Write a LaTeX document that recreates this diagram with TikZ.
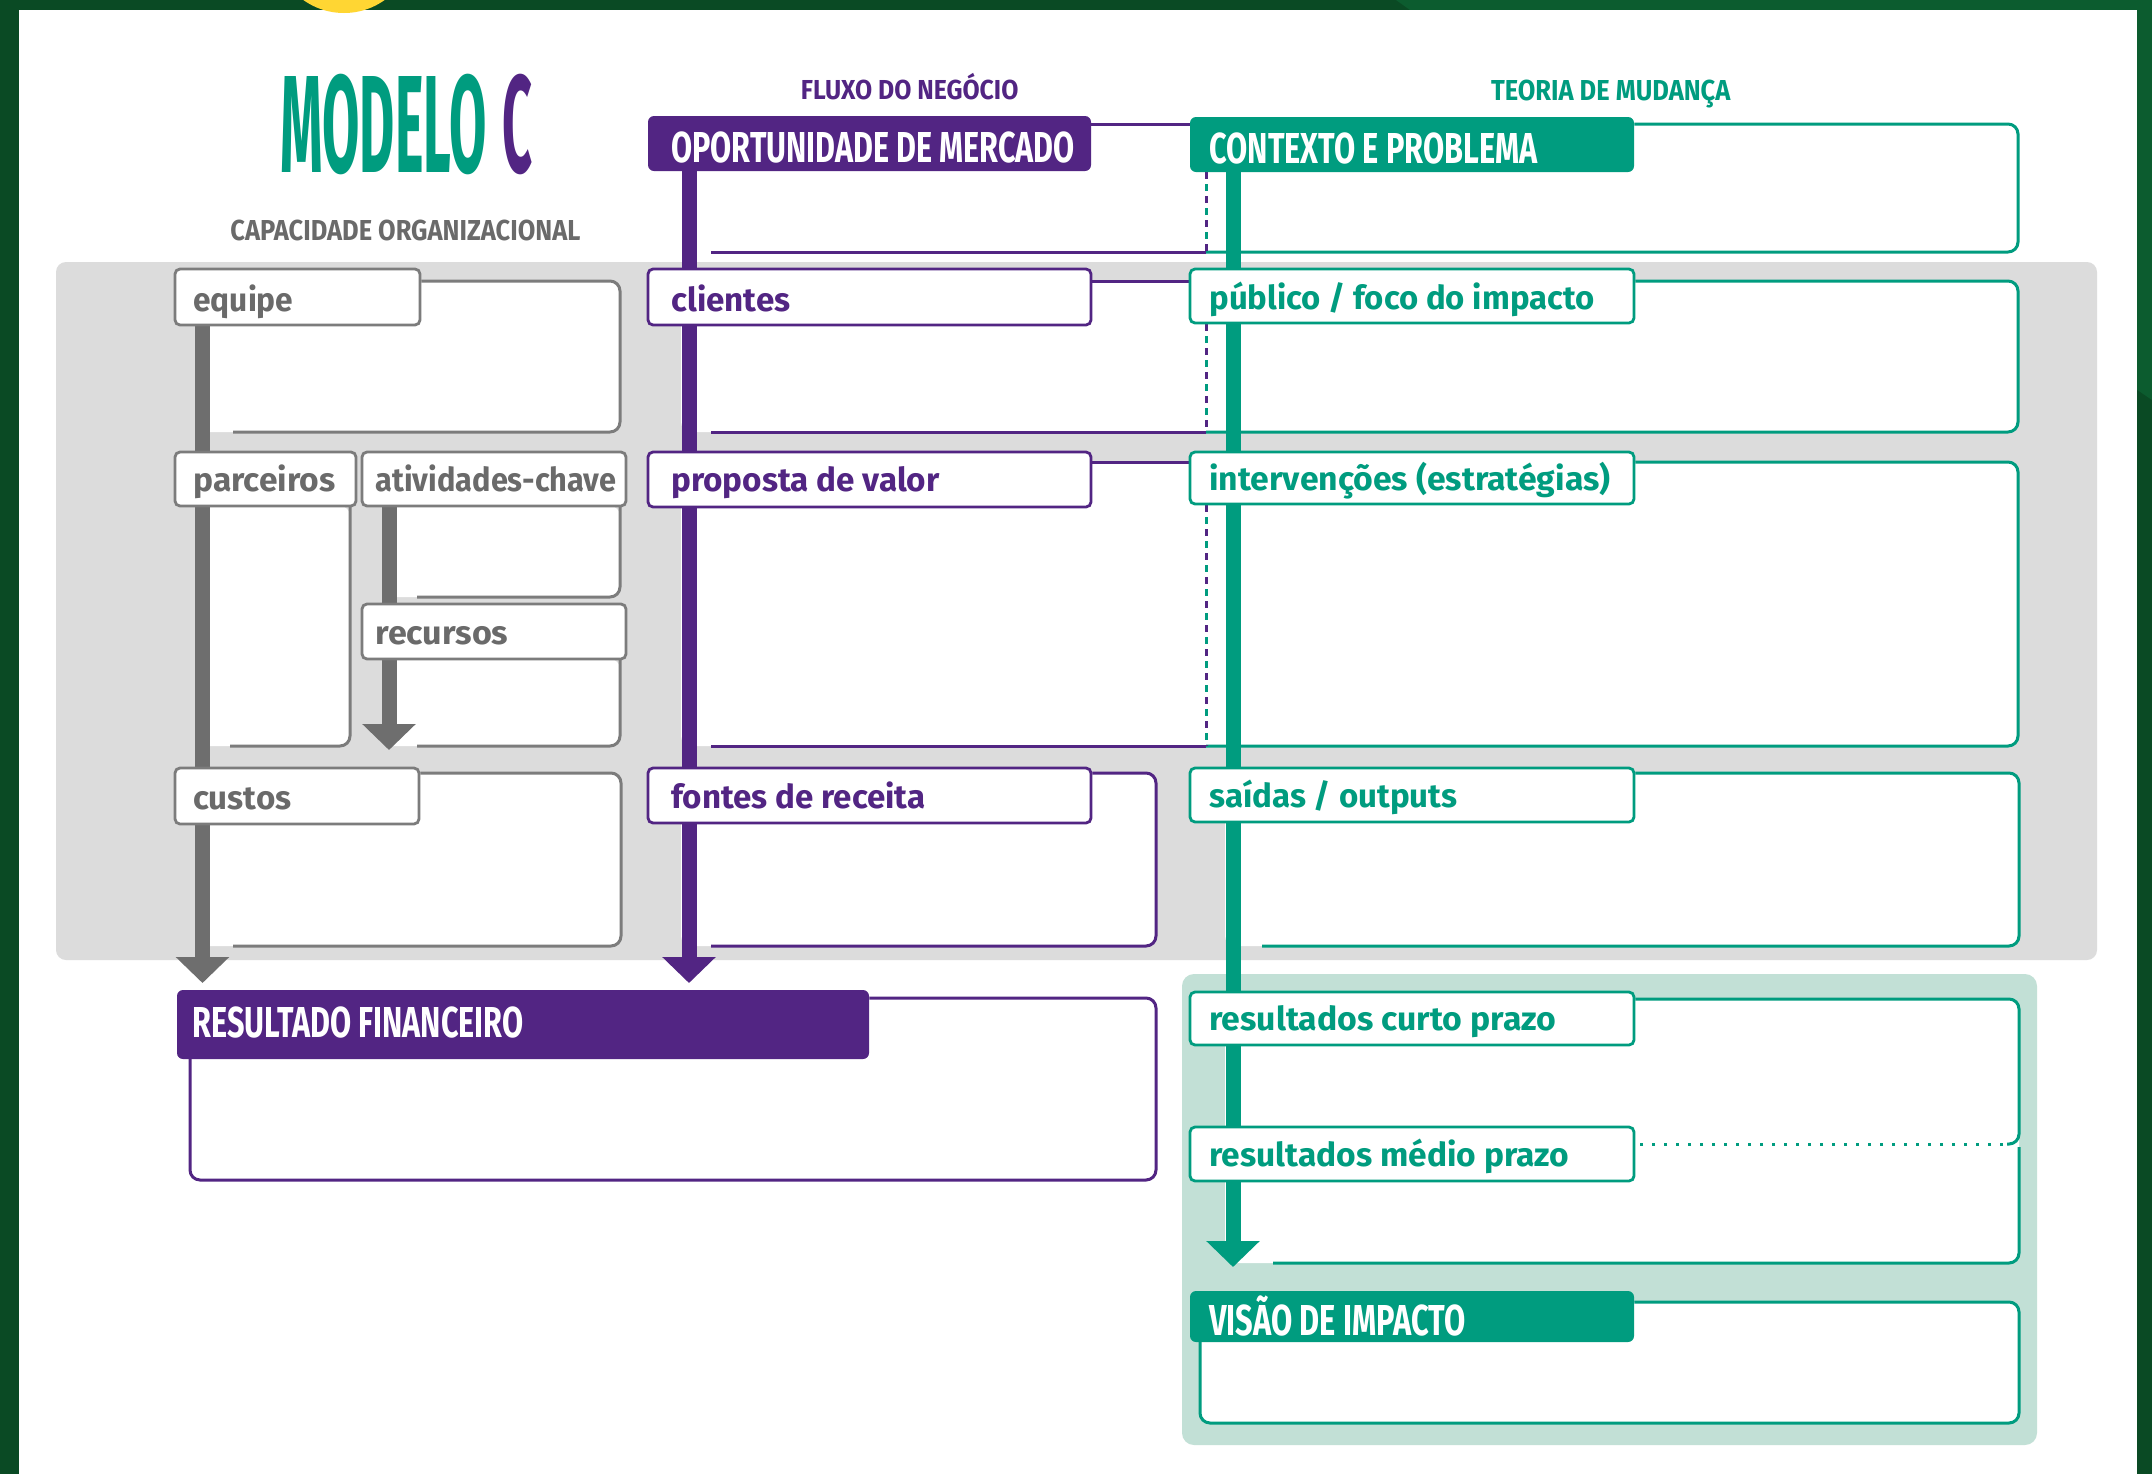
\documentclass[tikz,border=0pt]{standalone}
\usepackage{fontspec}
\usepackage{graphicx}
\setmainfont{Fira Sans}
\usetikzlibrary{arrows.meta,fit}
\definecolor{tpurple}{HTML}{522583}
\definecolor{tgreen}{HTML}{009C7F}
\definecolor{tgraybar}{HTML}{6E6E6E}
\definecolor{tgrayline}{HTML}{7C7C7C}
\definecolor{tgraytext}{HTML}{6A6A6A}
\definecolor{panelgray}{HTML}{DCDCDC}
\definecolor{panelgreen}{HTML}{C2E0D6}
\definecolor{framedark}{HTML}{0A4A24}
\definecolor{framelight}{HTML}{0C5C2F}
\definecolor{sun}{HTML}{FFD633}
\newcommand\fitl[3]{\resizebox{#1}{#2}{\smash{\bfseries #3}\vphantom{\bfseries l}}}
\newcommand\fitc[3]{\resizebox{#1}{#2}{\smash{\bfseries #3}\vphantom{\bfseries X}}}
\pgfdeclarelayer{bg}\pgfdeclarelayer{mid}\pgfsetlayers{bg,mid,main}
\begin{document}
\begin{tikzpicture}[x=0.5pt,y=-0.5pt,
 tab/.style={draw, fill=white, line width=1.4pt, rounded corners=2.5pt, inner sep=0pt},
 tabgray/.style={tab, draw=tgrayline},
 tabpurple/.style={tab, draw=tpurple},
 tabgreen/.style={tab, draw=tgreen},
 headpurple/.style={fill=tpurple, rounded corners=3pt, inner sep=0pt},
 headgreen/.style={fill=tgreen, rounded corners=3pt, inner sep=0pt},
 lbl/.style={anchor=base west, inner sep=0pt},
 bar/.style={line width=7.5pt, -{Triangle[width=26pt,length=13pt]}},
 cline/.style={line width=1.5pt, rounded corners=5pt},
 dotp/.style={line width=1.5pt, tpurple, dash pattern=on 3.5pt off 8.5pt},
 dotg/.style={line width=1.5pt, tgreen, dash pattern=on 3.5pt off 8.5pt, dash phase=6pt}]
\useasboundingbox (0,0) rectangle (2152,1474);
\begin{pgfonlayer}{bg}
\fill[framedark] (0,0) rectangle (2152,1474);
\fill[framelight] (1396,0) -- (2152,0) -- (2152,400) -- (2130,385) -- (1410,10) -- cycle;
\fill[white] (19,10) rectangle (2137,1474);
\fill[sun] (344,-57) circle (70);
\fill[panelgray, rounded corners=5pt] (56,262) rectangle (2097,960);
\fill[panelgreen, rounded corners=6pt] (1182,974) rectangle (2037,1445);
% white fills
\fill[white, rounded corners=5pt] (195,281) rectangle (620,432);
\fill[white, rounded corners=5pt] (195,506) rectangle (350,746);
\fill[white, rounded corners=5pt] (382,506) rectangle (620,597);
\fill[white, rounded corners=5pt] (382,659) rectangle (620,746);
\fill[white, rounded corners=5pt] (195,773) rectangle (621,946);
\fill[white, rounded corners=5pt] (681,124) rectangle (2018,252);
\fill[white, rounded corners=5pt] (681,281) rectangle (2018,432);
\fill[white, rounded corners=5pt] (681,462) rectangle (2018,746);
\fill[white, rounded corners=5pt] (681,773) rectangle (1156,946);
\fill[white, rounded corners=5pt] (1225,773) rectangle (2019,946);
\fill[white, rounded corners=5pt] (190,998) rectangle (1156,1180);
\fill[white, rounded corners=5pt] (1225,999) rectangle (2019,1263);
\fill[white, rounded corners=5pt] (1200,1302) rectangle (2019,1423);
\end{pgfonlayer}

% titles
\node[lbl] (title) at (280,172) {\textcolor{tgreen}{\fitc{103pt}{48pt}{MODELO}}\hspace{8pt}\textcolor{tpurple}{\fitc{15pt}{48pt}{C}}};
\node[lbl, text=tgraytext] (capac) at (230,240) {\fitc{175pt}{10pt}{CAPACIDADE ORGANIZACIONAL}};
\node[lbl, text=tpurple] (fluxo) at (800.5,99) {\fitc{108.75pt}{9.5pt}{FLUXO DO NEGÓCIO}};
\node[lbl, text=tgreen] (teoria) at (1490.6,100) {\fitc{119.7pt}{10pt}{TEORIA DE MUDANÇA}};

% heading boxes
\node[headpurple, fit={(648,116) (1091,171)}] (oport) {};
\node[lbl, text=white] (toport) at (671,162) {\fitc{201.75pt}{15pt}{OPORTUNIDADE DE MERCADO}};
\node[headgreen, fit={(1190,117) (1634,172)}] (contexto) {};
\node[lbl, text=white] (tcontexto) at (1209,163) {\fitc{164pt}{15pt}{CONTEXTO E PROBLEMA}};
\node[headpurple, fit={(177,990) (869,1059)}] (resfin) {};
\node[lbl, text=white] (tresfin) at (192,1037) {\fitc{165.5pt}{15pt}{RESULTADO FINANCEIRO}};
\node[headgreen, fit={(1190,1291) (1634,1342)}] (visao) {};
\node[lbl, text=white] (tvisao) at (1209,1335) {\fitc{128pt}{15pt}{VISÃO DE IMPACTO}};

% gray tabs
\node[tabgray, fit={(175,269) (420,325)}] (equipe) {};
\node[lbl, text=tgraytext] (tequipe) at (193,311) {\fitl{50pt}{12.5pt}{equipe}};
\node[tabgray, fit={(175,452) (356,506)}] (parceiros) {};
\node[lbl, text=tgraytext] (tparceiros) at (193,491) {\fitl{71pt}{12.5pt}{parceiros}};
\node[tabgray, fit={(362,452) (626,506)}] (atividades) {};
\node[lbl, text=tgraytext] (tatividades) at (375,491) {\fitl{120.5pt}{12.5pt}{atividades-chave}};
\node[tabgray, fit={(362,604) (626,659)}] (recursos) {};
\node[lbl, text=tgraytext] (trecursos) at (375,644) {\fitl{66.5pt}{12.5pt}{recursos}};
\node[tabgray, fit={(175,768) (419,824)}] (custos) {};
\node[lbl, text=tgraytext] (tcustos) at (193,809) {\fitl{49pt}{12.5pt}{custos}};

% purple tabs
\node[tabpurple, fit={(648,269) (1091,325)}] (clientes) {};
\node[lbl, text=tpurple] (tclientes) at (671,311) {\fitl{59.5pt}{12.5pt}{clientes}};
\node[tabpurple, fit={(648,452) (1091,507)}] (proposta) {};
\node[lbl, text=tpurple] (tproposta) at (671,491) {\fitl{134pt}{12.5pt}{proposta de valor}};
\node[tabpurple, fit={(648,768) (1091,823)}] (fontes) {};
\node[lbl, text=tpurple] (tfontes) at (671,808) {\fitl{127pt}{12.5pt}{fontes de receita}};

% green tabs
\node[tabgreen, fit={(1190,269) (1634,323)}] (publico) {};
\node[lbl, text=tgreen] (tpublico) at (1209,309) {\fitl{192.5pt}{12.5pt}{público / foco do impacto}};
\node[tabgreen, fit={(1190,452) (1634,504)}] (interv) {};
\node[lbl, text=tgreen] (tinterv) at (1209,490) {\fitl{200.5pt}{12.5pt}{intervenções (estratégias)}};
\node[tabgreen, fit={(1190,768) (1634,822)}] (saidas) {};
\node[lbl, text=tgreen] (tsaidas) at (1209,807) {\fitl{124pt}{12.5pt}{saídas / outputs}};
\node[tabgreen, fit={(1190,992) (1634,1045)}] (curto) {};
\node[lbl, text=tgreen] (tcurto) at (1209,1030) {\fitl{173.5pt}{12.5pt}{resultados curto prazo}};
\node[tabgreen, fit={(1190,1127) (1634,1181)}] (medio) {};
\node[lbl, text=tgreen] (tmedio) at (1209,1166) {\fitl{180pt}{12.5pt}{resultados médio prazo}};

\begin{pgfonlayer}{mid}
% bars
\coordinate (gA) at (202.5,983);
\coordinate (gB) at (389,750);
\coordinate (pA) at (689,983);
\coordinate (vA) at (1233,1267);
\draw[bar, tgraybar] (equipe.south -| gA) -- (gA);
\draw[bar, tgraybar] (atividades.south -| gB) -- (gB);
\draw[bar, tpurple] (oport.south -| pA) -- (pA);
\draw[bar, tgreen] (contexto.south -| vA) -- (vA);
% gray content boxes
\draw[cline, tgrayline] (equipe.east |- 0,281) -- (620,281) -- (620,432) -- (233,432);
\draw[cline, tgrayline] (350,506) -- (350,746) -- (230,746);
\draw[cline, tgrayline] (620,506) -- (620,597) -- (417,597);
\draw[cline, tgrayline] (620,659) -- (620,746) -- (417,746);
\draw[cline, tgrayline] (custos.east |- 0,773) -- (621,773) -- (621,946) -- (233,946);
% purple/green joint boxes
\draw[cline, tpurple] (oport.east |- 0,124) -- (contexto.west |- 0,124);
\draw[cline, tgreen] (contexto.east |- 0,124) -- (2018,124) -- (2018,252) -- (1206,252);
\draw[cline, tpurple] (1206,252) -- (711,252);
\draw[cline, tpurple] (clientes.east |- 0,281) -- (publico.west |- 0,281);
\draw[cline, tgreen] (publico.east |- 0,281) -- (2018,281) -- (2018,432) -- (1206,432);
\draw[cline, tpurple] (1206,432) -- (711,432);
\draw[cline, tpurple] (proposta.east |- 0,462) -- (interv.west |- 0,462);
\draw[cline, tgreen] (interv.east |- 0,462) -- (2018,462) -- (2018,746) -- (1206,746);
\draw[cline, tpurple] (1206,746) -- (711,746);
\coordinate (d0) at (1206,252);
\coordinate (d1) at (1206,432);
\coordinate (d2) at (1206,746);
\draw[dotp] (contexto.south -| d0) -- (d0);
\draw[dotg] (contexto.south -| d0) -- (d0);
\draw[dotp] (publico.south -| d1) -- (d1);
\draw[dotg] (publico.south -| d1) -- (d1);
\draw[dotp] (interv.south -| d2) -- (d2);
\draw[dotg] (interv.south -| d2) -- (d2);
% other boxes
\draw[cline, tpurple] (fontes.east |- 0,773) -- (1156,773) -- (1156,946) -- (711,946);
\draw[cline, tgreen] (saidas.east |- 0,773) -- (2019,773) -- (2019,946) -- (1262,946);
\draw[cline, tpurple] (resfin.east |- 0,998) -- (1156,998) -- (1156,1180) -- (190,1180) -- (190,1059);
\draw[cline, tgreen] (curto.east |- 0,999) -- (2019,999) -- (2019,1144) -- (2007,1144);
\draw[tgreen, line width=1.5pt, dash pattern=on 1.5pt off 4.5pt] (2003,1144) -- (medio.east |- 0,1144);
\draw[cline, tgreen] (2019,1147) -- (2019,1263) -- (1273,1263);
\draw[cline, tgreen] (visao.east |- 0,1302) -- (2019,1302) -- (2019,1423) -- (1200,1423) -- (1200,1342);
\end{pgfonlayer}
\end{tikzpicture}
\end{document}
